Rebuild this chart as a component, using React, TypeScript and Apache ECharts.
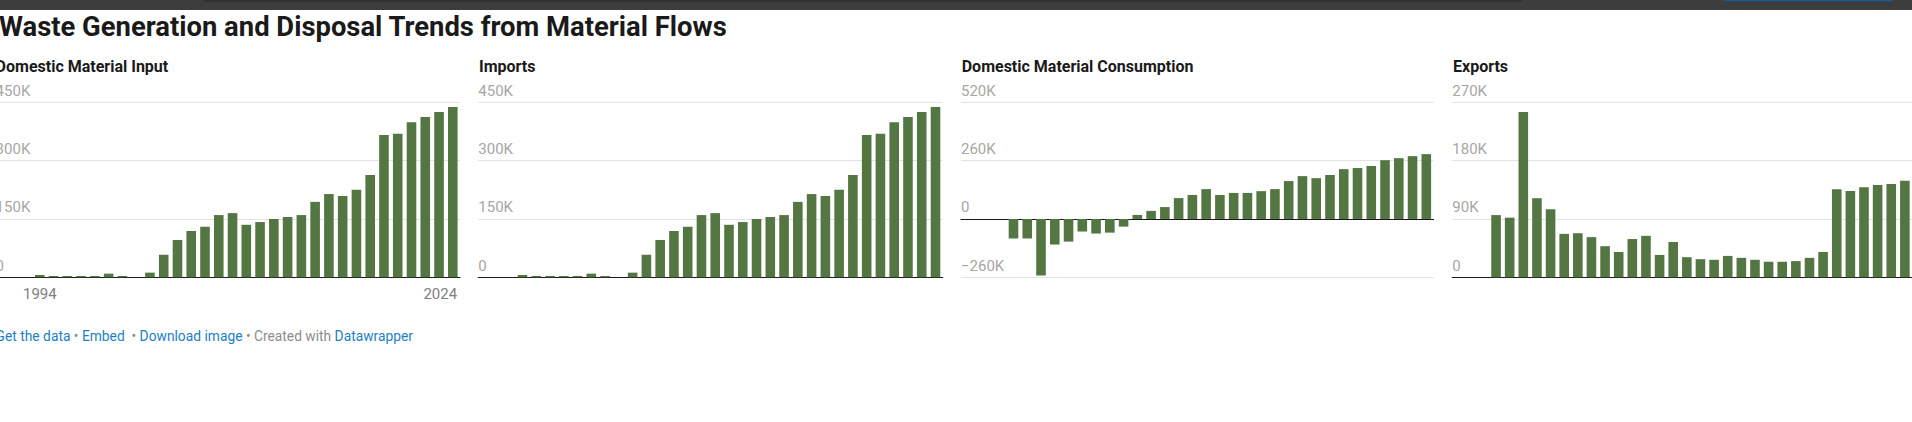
import React, { useEffect, useRef } from 'react';
import * as echarts from 'echarts';

// ---- data (thousand tonnes) ----
const years = [
  1994, 1995, 1996, 1997, 1998, 1999, 2000, 2001, 2002, 2003, 2004, 2005, 2006, 2007, 2008, 2009,
  2010, 2011, 2012, 2013, 2014, 2015, 2016, 2017, 2018, 2019, 2020, 2021, 2022, 2023, 2024,
];
const domesticMaterialInput = [
  6, 3.4, 3.4, 3.4, 3.4, 9.4, 3.4, 0, 12, 58, 96, 119, 130, 160, 165, 135, 142, 150, 155, 160, 194,
  214, 209, 225, 263, 366, 369, 399, 412, 425, 438,
];
const imports = [
  6, 3.4, 3.4, 3.4, 3.4, 9.4, 3.4, 0, 12, 58, 96, 119, 130, 160, 165, 135, 142, 150, 155, 160, 194,
  214, 209, 225, 263, 366, 369, 399, 412, 425, 438,
];
const domesticMaterialConsumption = [
  -87, -87, -252, -114, -101, -56, -65, -61, -34, 18, 36, 53, 93, 107, 133, 107, 116, 116, 124, 133,
  169, 191, 182, 196, 222, 227, 236, 262, 271, 280, 289,
];
const exportsData = [
  96, 92, 255, 122, 105, 67, 68, 62, 48, 39, 59, 64, 34.5, 54.5, 31, 28, 27, 33, 30, 27, 24, 24, 25,
  30, 39, 136, 133, 139, 142.5, 144, 149,
];
const panelTitles = ['Domestic Material Input', 'Imports', 'Domestic Material Consumption', 'Exports'];
const yMins = [0, 0, -260, 0];
const yMaxs = [450, 450, 520, 270];
const ySteps = [150, 150, 260, 90];
const xTickYears = [1994, 2024];
const chartTitle = 'Waste Generation and Disposal Trends from Material Flows';

const seriesValues = [domesticMaterialInput, imports, domesticMaterialConsumption, exportsData];

// ---- layout (container starts OFF px left of the page) ----
const OFF = 10;
const panels = [
  { left: -4.4, width: 464.4, xmin: 1990.789, xmax: 2024.523 },
  { left: 478.3, width: 464.4, xmin: 1990.789, xmax: 2024.523 },
  { left: 961, width: 472.5, xmin: 1990.185, xmax: 2024.523 },
  { left: 1452.3, width: 464.4, xmin: 1990.789, xmax: 2024.523 },
];
const GRID_TOP = 102.3;
const GRID_H = 175;
const FONT = 'Roboto, "Noto Sans", sans-serif';
const BAR = '#547643';

const fmtY = (v: number) => (v === 0 ? '0' : (v < 0 ? '\u2212' : '') + Math.abs(v) + 'K');

export default function App() {
  const ref = useRef<HTMLDivElement>(null);
  useEffect(() => {
    if (!ref.current) return;
    const chart = echarts.init(ref.current, null, { renderer: 'svg' });
    const option: any = {
      animation: false,
      grid: panels.map((p) => ({ left: p.left + OFF, top: GRID_TOP, width: p.width, height: GRID_H, containLabel: false })),
      xAxis: panels.map((p, i) => ({
        type: 'value',
        gridIndex: i,
        min: p.xmin,
        max: p.xmax,
        axisLine: { show: true, onZero: true, lineStyle: { color: '#1a1a1a', width: 1.2 } },
        axisTick: { show: false },
        splitLine: { show: false },
        axisLabel:
          i === 0
            ? {
                show: true,
                customValues: xTickYears,
                margin: 9,
                color: '#808080',
                fontSize: 15,
                lineHeight: 15,
                fontFamily: FONT,
                formatter: (v: number) => (v === xTickYears[1] ? '{r|' + v + '}' : String(v)),
                rich: { r: { padding: [0, 25, 0, 0], color: '#808080', fontSize: 15, fontFamily: FONT } },
              }
            : { show: false },
      })),
      yAxis: panels.map((p, i) => ({
        type: 'value',
        gridIndex: i,
        min: yMins[i],
        max: yMaxs[i],
        interval: ySteps[i],
        axisLine: { show: false },
        axisTick: { show: false },
        splitLine: { show: true, lineStyle: { color: '#e2e2e2', width: 1 } },
        axisLabel: {
          inside: true,
          margin: 0,
          verticalAlign: 'bottom',
          lineHeight: 15,
          padding: [0, 0, 4, 0],
          color: '#a8a6a4',
          fontSize: 15,
          fontFamily: FONT,
          formatter: fmtY,
        },
      })),
      series: seriesValues.map((vals, i) => ({
        type: 'bar',
        xAxisIndex: i,
        yAxisIndex: i,
        barWidth: 9.6,
        silent: true,
        itemStyle: { color: BAR },
        data: years.map((y, j) => [y, vals[j]]),
      })),
      graphic: [
        { type: 'rect', shape: { x: OFF, y: 0, width: 1912, height: 10 }, style: { fill: '#3d3d3d' }, silent: true },
        { type: 'rect', shape: { x: 203 + OFF, y: -3, width: 1320, height: 5, r: 2 }, style: { fill: '#323232' }, silent: true },
        { type: 'rect', shape: { x: 1724 + OFF, y: -3, width: 169, height: 4.2, r: 2 }, style: { fill: '#175c99' }, silent: true },
        {
          type: 'text',
          x: -1 + OFF,
          y: 27,
          style: {
            text: chartTitle,
            fill: '#1a1a1a',
            fontSize: 27.4,
            fontWeight: 'bold',
            fontFamily: FONT,
            textAlign: 'left',
            textVerticalAlign: 'middle',
          },
        },
        ...panelTitles.map((t, i) => ({
          type: 'text',
          x: (i === 0 ? -4.4 : panels[i].left + 0.7) + OFF,
          y: 66,
          style: {
            text: t,
            fill: '#1a1a1a',
            fontSize: 16,
            fontWeight: 'bold',
            fontFamily: FONT,
            textAlign: 'left',
            textVerticalAlign: 'middle',
          },
        })),
        {
          type: 'text',
          x: -4.4 + OFF,
          y: 336,
          style: {
            text:
              '{b|Get the data}{g| \u2022 }{b|Embed}{g|  \u2022 }{b|Download image}{g| \u2022 Created with }{b|Datawrapper}',
            fontSize: 13.8,
            fontFamily: FONT,
            textAlign: 'left',
            textVerticalAlign: 'middle',
            rich: {
              b: { fill: '#1d80c4', fontSize: 13.8, fontFamily: FONT },
              g: { fill: '#8c8c8c', fontSize: 13.8, fontFamily: FONT },
            },
          },
        },
      ],
    };
    chart.setOption(option);
    return () => chart.dispose();
  }, []);
  return (
    <div
      ref={ref}
      style={{ position: 'absolute', left: -OFF, top: 0, width: 1912 + OFF, height: 422 }}
    />
  );
}
